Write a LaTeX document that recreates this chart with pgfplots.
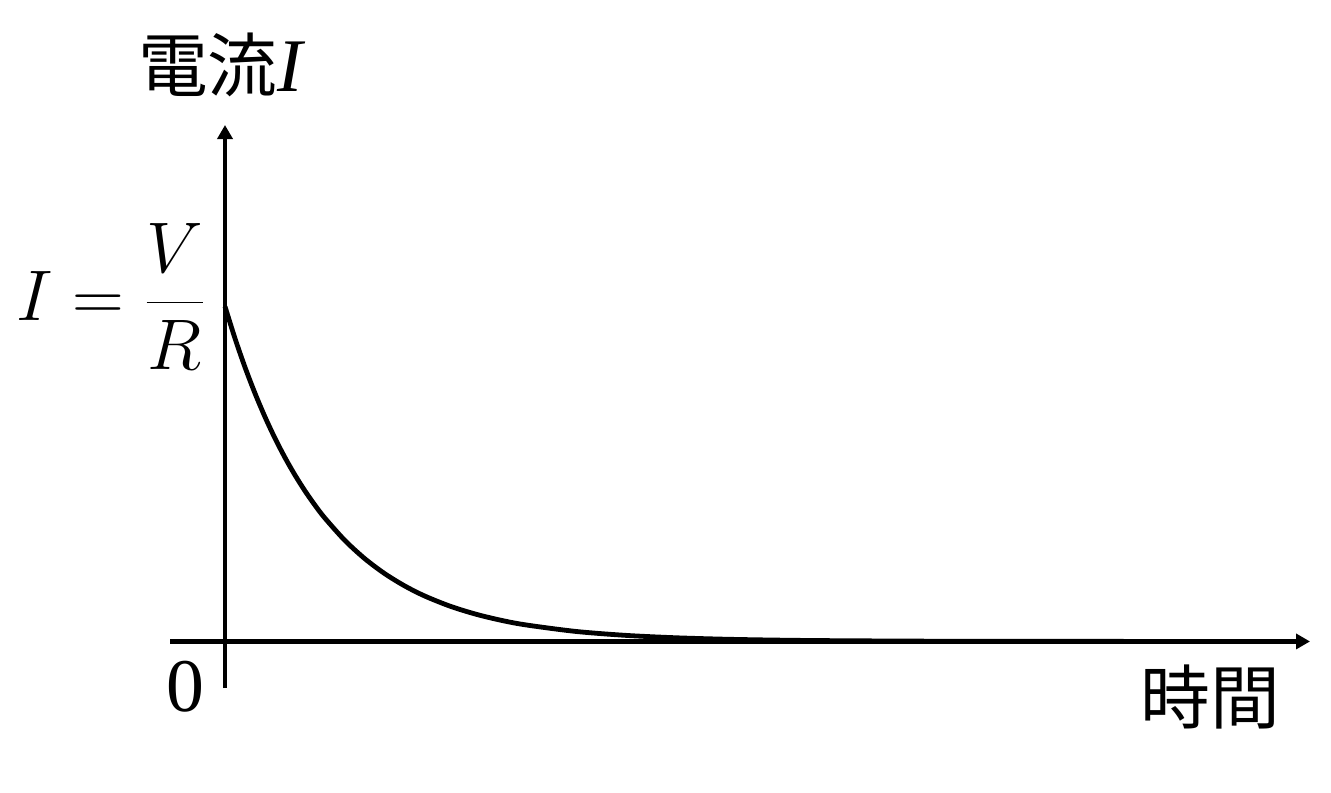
\RequirePackage{fix-cm}
\documentclass[border=0pt]{standalone}
\usepackage{fontspec}
\setmainfont{Liberation Serif}
\newfontfamily\cjk{Noto Sans CJK JP}
\usepackage{pgfplots}
\pgfplotsset{compat=1.18}
\usetikzlibrary{arrows.meta}
\begin{document}
\begin{tikzpicture}[x=1bp,y=1bp]
\useasboundingbox (0,0) rectangle (665.5,396);
\begin{axis}[at={(85bp,52bp)}, anchor=south west, scale only axis,
  width=570bp, height=281.5bp,
  xmin=-0.55, xmax=10.85, ymin=-0.139, ymax=1.542,
  axis lines=middle,
  axis line style={line width=2.4bp, -{Triangle[length=7bp,width=7.5bp]}},
  xtick=\empty, ytick=\empty, clip=false]
\addplot[line width=2.4bp, black, smooth] coordinates {
(0,1.0000) (0.1,0.9048) (0.2,0.8187) (0.3,0.7408) (0.4,0.6703) (0.5,0.6065)
(0.6,0.5488) (0.7,0.4966) (0.8,0.4493) (0.9,0.4066) (1.0,0.3679) (1.2,0.3012)
(1.4,0.2466) (1.6,0.2019) (1.8,0.1653) (2.0,0.1353) (2.25,0.1054) (2.5,0.0821)
(2.75,0.0639) (3.0,0.0498) (3.5,0.0302) (4.0,0.0183) (4.5,0.0111) (5.0,0.0067)
(5.5,0.0041) (6.0,0.0025) (7.0,0.0009) (8.0,0.0003) (9.85,0.0001)};
\node[font=\fontsize{35}{38}\selectfont, inner sep=0pt] at (axis cs:-0.03,1.721) {{\cjk 電流}{\fontsize{38}{40}\selectfont\textit{I}}};
\node[anchor=east, inner sep=0pt, font=\fontsize{36}{40}\selectfont] at (axis cs:-0.19,1.03) {$\displaystyle I=\frac{V}{R}$};
\node[inner sep=0pt, font=\fontsize{38}{40}\selectfont] at (axis cs:-0.40,-0.136) {0};
\node[inner sep=0pt, font=\cjk\fontsize{35}{38}\selectfont] at (axis cs:9.85,-0.166) {時間};
\end{axis}
\end{tikzpicture}
\end{document}
